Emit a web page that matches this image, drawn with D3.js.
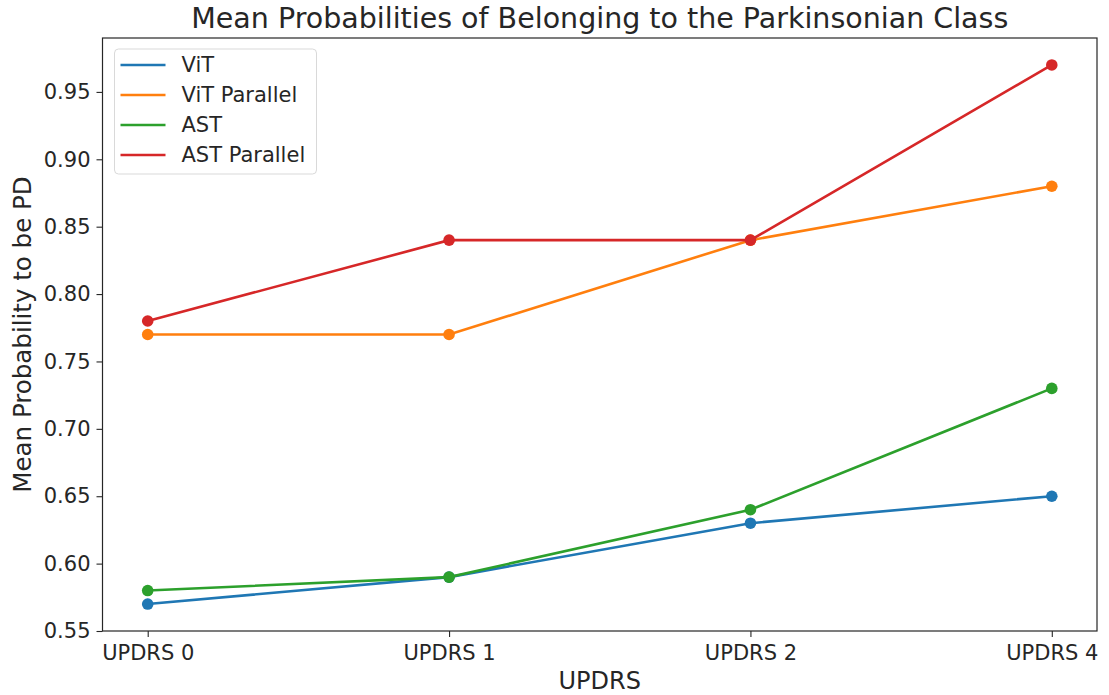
<!DOCTYPE html>
<html>
<head>
<meta charset="utf-8">
<style>
  body { margin: 0; background: #fff; }
  svg text { font-family: "DejaVu Sans", sans-serif; fill: #262626; }
</style>
</head>
<body>
<svg width="1109" height="695"></svg>
<script src="https://cdn.jsdelivr.net/npm/d3@7"></script>
<script>
// data
var categories = ["UPDRS 0", "UPDRS 1", "UPDRS 2", "UPDRS 4"];
var vit         = [0.57, 0.59, 0.63, 0.65];
var vitParallel = [0.77, 0.77, 0.84, 0.88];
var ast         = [0.58, 0.59, 0.64, 0.73];
var astParallel = [0.78, 0.84, 0.84, 0.97];
var seriesNames = ["ViT", "ViT Parallel", "AST", "AST Parallel"];
var yTicks = [0.55, 0.60, 0.65, 0.70, 0.75, 0.80, 0.85, 0.90, 0.95];

var colors = ["#1f77b4", "#ff7f0e", "#2ca02c", "#d62728"];
var series = [vit, vitParallel, ast, astParallel].map(function(v, i) {
  return { name: seriesNames[i], values: v, color: colors[i] };
});

var svg = d3.select("svg"),
    margin = {top: 38, right: 12, bottom: 64, left: 102.5},
    width = 1109 - margin.left - margin.right,
    height = 695 - margin.top - margin.bottom,
    g = svg.append("g").attr("transform", "translate(" + margin.left + "," + margin.top + ")");

// matplotlib-like 5% margins
var x = d3.scaleLinear()
    .domain([-0.15, categories.length - 1 + 0.15])
    .range([0, width]);

var y = d3.scaleLinear()
    .domain([0.55, 0.99])
    .range([height, 0]);

var line = d3.line()
    .x(function(d, i) { return x(i); })
    .y(function(d) { return y(d); });

// axes
var xAxis = g.append("g")
    .attr("transform", "translate(0," + height + ")")
    .call(d3.axisBottom(x)
      .tickValues(d3.range(categories.length))
      .tickFormat(function(i) { return categories[i]; })
      .tickSize(6).tickPadding(5));

var yAxis = g.append("g")
    .call(d3.axisLeft(y)
      .tickValues(yTicks)
      .tickFormat(d3.format(".2f"))
      .tickSize(6).tickPadding(6));

[xAxis, yAxis].forEach(function(a) {
  a.select(".domain").remove();
  a.selectAll(".tick line").attr("stroke", "#262626").attr("stroke-width", 1.1);
  a.selectAll(".tick text").style("font-size", "21px").attr("fill", "#262626");
});
xAxis.selectAll(".tick text").attr("dy", "0.85em");

// frame
g.append("rect")
    .attr("width", width)
    .attr("height", height)
    .attr("fill", "none")
    .attr("stroke", "#262626")
    .attr("stroke-width", 1.2);

// lines + markers
var s = g.selectAll(".serie")
  .data(series)
  .enter().append("g")
    .attr("class", "serie");

s.append("path")
    .attr("d", function(d) { return line(d.values); })
    .attr("fill", "none")
    .attr("stroke", function(d) { return d.color; })
    .attr("stroke-width", 2.6);

s.selectAll("circle")
  .data(function(d) { return d.values.map(function(v) { return { v: v, c: d.color }; }); })
  .enter().append("circle")
    .attr("cx", function(d, i) { return x(i); })
    .attr("cy", function(d) { return y(d.v); })
    .attr("r", 5.8)
    .attr("fill", function(d) { return d.c; });

// title and labels
svg.append("text")
    .attr("x", margin.left + width / 2)
    .attr("y", 28)
    .attr("text-anchor", "middle")
    .style("font-size", "28.5px")
    .text("Mean Probabilities of Belonging to the Parkinsonian Class");

svg.append("text")
    .attr("x", margin.left + width / 2)
    .attr("y", 689)
    .attr("text-anchor", "middle")
    .style("font-size", "24px")
    .text("UPDRS");

svg.append("text")
    .attr("transform", "translate(31," + (margin.top + height / 2) + ") rotate(-90)")
    .attr("text-anchor", "middle")
    .style("font-size", "24.5px")
    .text("Mean Probability to be PD");

// legend
var legend = g.append("g").attr("transform", "translate(12,11)");
legend.append("rect")
    .attr("width", 202)
    .attr("height", 125)
    .attr("rx", 4)
    .attr("fill", "#fff")
    .attr("fill-opacity", 0.8)
    .attr("stroke", "#d9d9d9");

var item = legend.selectAll(".item")
  .data(series)
  .enter().append("g")
    .attr("class", "item")
    .attr("transform", function(d, i) { return "translate(0," + (16 + i * 30) + ")"; });

item.append("line")
    .attr("x1", 6).attr("x2", 51)
    .attr("stroke", function(d) { return d.color; })
    .attr("stroke-width", 2.6);

item.append("text")
    .attr("x", 67)
    .attr("dy", "0.35em")
    .style("font-size", "21px")
    .text(function(d) { return d.name; });
</script>
</body>
</html>
